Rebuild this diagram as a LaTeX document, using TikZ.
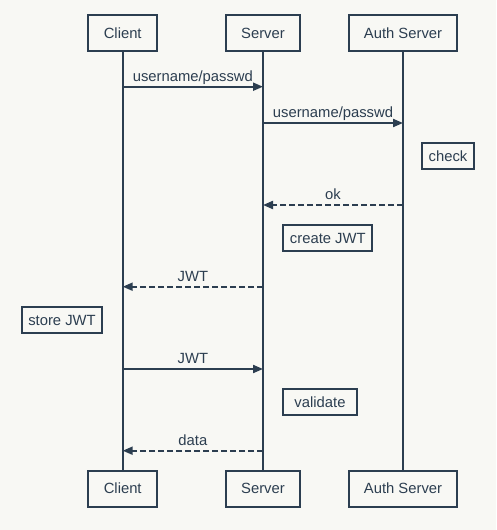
\documentclass[tikz,border=0pt]{standalone}
\usepackage{fontspec}
\setmainfont{Liberation Sans}
\usetikzlibrary{arrows.meta,positioning}
\definecolor{ink}{HTML}{2C3E50}
\definecolor{paper}{HTML}{F8F8F4}
\tikzstyle{actor} = [draw=ink,line width=2pt,text=ink,minimum width=69pt,minimum height=36pt,inner xsep=15pt,font=\fontsize{14.8}{17}\selectfont]
\tikzstyle{note} = [draw=ink,line width=2pt,text=ink,minimum height=26.5pt,inner xsep=6.5pt,font=\fontsize{14.8}{17}\selectfont]
\tikzstyle{life} = [draw=ink,line width=2pt]
\tikzstyle{msg} = [draw=ink,line width=2pt,-{Triangle[length=10pt,width=8pt]}]
\tikzstyle{reply} = [msg,dash pattern=on 6pt off 3pt]
\tikzstyle{lbl} = [midway,anchor=base,yshift=5.5pt,inner sep=0pt,text=ink,font=\fontsize{14.8}{17}\selectfont]

\begin{document}
\begin{tikzpicture}[x=1pt,y=-1pt]
\fill[paper] (0,0) rectangle (496,530);
\useasboundingbox (0,0) rectangle (496,530);

\node[actor] (clientTop) at (122.7,33) {Client};
\node[actor] (serverTop) at (263,33) {Server};
\node[actor] (authTop) at (403,33) {Auth Server};
\node[actor] (clientBot) at (122.7,488.7) {Client};
\node[actor] (serverBot) at (263,488.7) {Server};
\node[actor] (authBot) at (403,488.7) {Auth Server};

\draw[life] (clientTop) -- (clientBot);
\draw[life] (serverTop) -- (serverBot);
\draw[life] (authTop) -- (authBot);

\coordinate (c1) at (122.7,86.7);
\coordinate (s1) at (263,86.7);
\draw[msg] (c1) -- node[lbl] {username/passwd} (s1);

\coordinate (s2) at (263,123);
\coordinate (a2) at (403,123);
\draw[msg] (s2) -- node[lbl] {username/passwd} (a2);

\node[note] (check) at (448,156) {check};

\coordinate (a3) at (403,205);
\coordinate (s3) at (263,205);
\draw[reply] (a3) -- node[lbl] {ok} (s3);

\node[note] (create) at (327.8,238) {create JWT};

\coordinate (s4) at (263,286.7);
\coordinate (c4) at (122.7,286.7);
\draw[reply] (s4) -- node[lbl] {JWT} (c4);

\node[note] (store) at (62,320) {store JWT};

\coordinate (c5) at (122.7,369);
\coordinate (s5) at (263,369);
\draw[msg] (c5) -- node[lbl] {JWT} (s5);

\node[note,minimum width=74.6pt] (validate) at (320,402.2) {validate};

\coordinate (s6) at (263,450.7);
\coordinate (c6) at (122.7,450.7);
\draw[reply] (s6) -- node[lbl] {data} (c6);
\end{tikzpicture}
\end{document}
